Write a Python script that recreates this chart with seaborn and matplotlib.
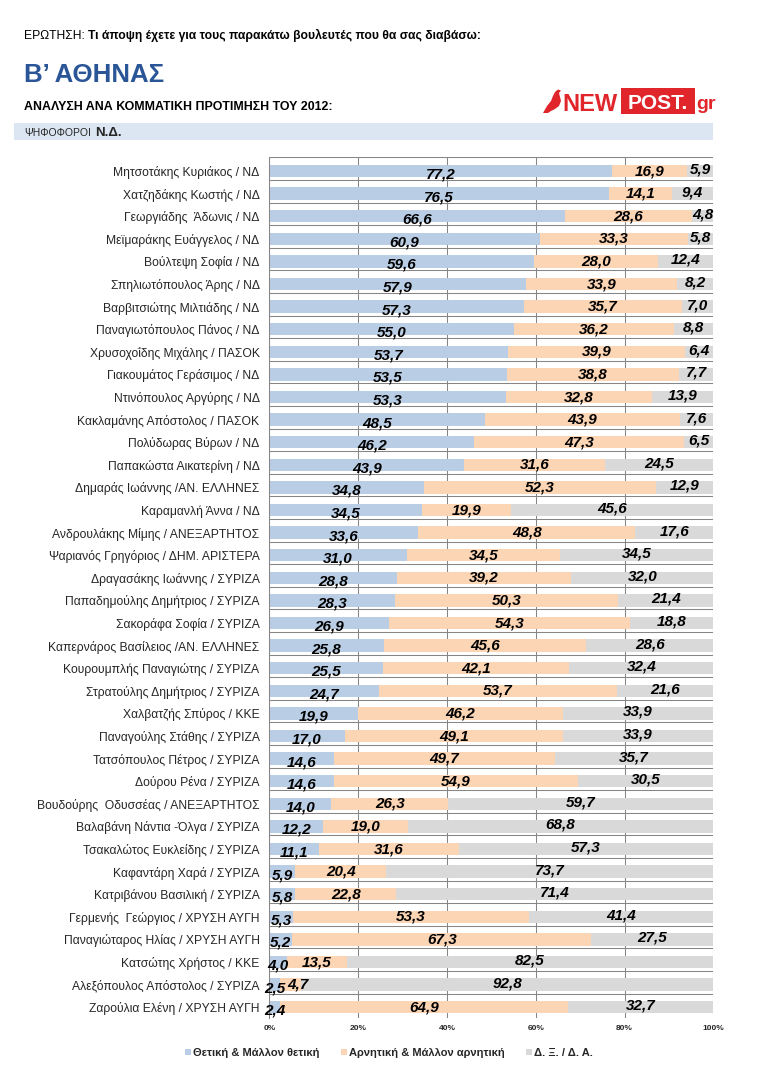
import numpy as np
import pandas as pd
import matplotlib
matplotlib.use("Agg")
import matplotlib.pyplot as plt
import seaborn as sns
from matplotlib import font_manager as fm
from matplotlib.patches import Rectangle, Polygon, Patch

# ---------------- data ----------------
names = [
    "Μητσοτάκης Κυριάκος / ΝΔ", "Χατζηδάκης Κωστής / ΝΔ", "Γεωργιάδης  Άδωνις / ΝΔ",
    "Μεϊμαράκης Ευάγγελος / ΝΔ", "Βούλτεψη Σοφία / ΝΔ", "Σπηλιωτόπουλος Άρης / ΝΔ",
    "Βαρβιτσιώτης Μιλτιάδης / ΝΔ", "Παναγιωτόπουλος Πάνος / ΝΔ", "Χρυσοχοΐδης Μιχάλης / ΠΑΣΟΚ",
    "Γιακουμάτος Γεράσιμος / ΝΔ", "Ντινόπουλος Αργύρης / ΝΔ", "Κακλαμάνης Απόστολος / ΠΑΣΟΚ",
    "Πολύδωρας Βύρων / ΝΔ", "Παπακώστα Αικατερίνη / ΝΔ", "Δημαράς Ιωάννης /ΑΝ. ΕΛΛΗΝΕΣ",
    "Καραμανλή Άννα / ΝΔ", "Ανδρουλάκης Μίμης / ΑΝΕΞΑΡΤΗΤΟΣ", "Ψαριανός Γρηγόριος / ΔΗΜ. ΑΡΙΣΤΕΡΑ",
    "Δραγασάκης Ιωάννης / ΣΥΡΙΖΑ", "Παπαδημούλης Δημήτριος / ΣΥΡΙΖΑ", "Σακοράφα Σοφία / ΣΥΡΙΖΑ",
    "Καπερνάρος Βασίλειος /ΑΝ. ΕΛΛΗΝΕΣ", "Κουρουμπλής Παναγιώτης / ΣΥΡΙΖΑ", "Στρατούλης Δημήτριος / ΣΥΡΙΖΑ",
    "Χαλβατζής Σπύρος / ΚΚΕ", "Παναγούλης Στάθης / ΣΥΡΙΖΑ", "Τατσόπουλος Πέτρος / ΣΥΡΙΖΑ",
    "Δούρου Ρένα / ΣΥΡΙΖΑ", "Βουδούρης  Οδυσσέας / ΑΝΕΞΑΡΤΗΤΟΣ", "Βαλαβάνη Νάντια -Όλγα / ΣΥΡΙΖΑ",
    "Τσακαλώτος Ευκλείδης / ΣΥΡΙΖΑ", "Καφαντάρη Χαρά / ΣΥΡΙΖΑ", "Κατριβάνου Βασιλική / ΣΥΡΙΖΑ",
    "Γερμενής  Γεώργιος / ΧΡΥΣΗ ΑΥΓΗ", "Παναγιώταρος Ηλίας / ΧΡΥΣΗ ΑΥΓΗ", "Κατσώτης Χρήστος / ΚΚΕ",
    "Αλεξόπουλος Απόστολος / ΣΥΡΙΖΑ", "Ζαρούλια Ελένη / ΧΡΥΣΗ ΑΥΓΗ",
]
positive = [77.2, 76.5, 66.6, 60.9, 59.6, 57.9, 57.3, 55.0, 53.7, 53.5, 53.3, 48.5, 46.2,
            43.9, 34.8, 34.5, 33.6, 31.0, 28.8, 28.3, 26.9, 25.8, 25.5, 24.7, 19.9, 17.0,
            14.6, 14.6, 14.0, 12.2, 11.1, 5.9, 5.8, 5.3, 5.2, 4.0, 2.5, 2.4]
negative = [16.9, 14.1, 28.6, 33.3, 28.0, 33.9, 35.7, 36.2, 39.9, 38.8, 32.8, 43.9, 47.3,
            31.6, 52.3, 19.9, 48.8, 34.5, 39.2, 50.3, 54.3, 45.6, 42.1, 53.7, 46.2, 49.1,
            49.7, 54.9, 26.3, 19.0, 31.6, 20.4, 22.8, 53.3, 67.3, 13.5, 4.7, 64.9]
dkna = [5.9, 9.4, 4.8, 5.8, 12.4, 8.2, 7.0, 8.8, 6.4, 7.7, 13.9, 7.6, 6.5,
        24.5, 12.9, 45.6, 17.6, 34.5, 32.0, 21.4, 18.8, 28.6, 32.4, 21.6, 33.9, 33.9,
        35.7, 30.5, 59.7, 68.8, 57.3, 73.7, 71.4, 41.4, 27.5, 82.5, 92.8, 32.7]
x_ticks = [0, 20, 40, 60, 80, 100]
series_labels = ["Θετική & Μάλλον θετική", "Αρνητική & Μάλλον αρνητική", "Δ. Ξ. / Δ. Α."]
colors = ["#B9CDE5", "#FCD5B5", "#D9D9D9"]

# ---------------- style ----------------
sns.set_style("white")
font_names = {f.name for f in fm.fontManager.ttflist}
BASE = "Liberation Sans" if "Liberation Sans" in font_names else "DejaVu Sans"
NARROW = "Liberation Sans Narrow" if "Liberation Sans Narrow" in font_names else BASE
plt.rcParams["font.family"] = [BASE, "DejaVu Sans"]

W, H = 765, 1087
fig = plt.figure(figsize=(W / 100, H / 100), dpi=100)
fig.patch.set_facecolor("white")

def fx(px):
    return px / W

def fy(py):
    return 1 - py / H

ax_left, ax_right, ax_top, ax_bottom = 269.3, 713.3, 157.4, 1018.0
ax = fig.add_axes([fx(ax_left), fy(ax_bottom), (ax_right - ax_left) / W, (ax_bottom - ax_top) / H])

df = pd.DataFrame({"name": names, "pos": positive, "neg": negative, "dk": dkna})
df["c2"] = df["pos"] + df["neg"]
df["c3"] = df["c2"] + df["dk"]
for col, c in [("c3", colors[2]), ("c2", colors[1]), ("pos", colors[0])]:
    sns.barplot(data=df, y="name", x=col, color=c, saturation=1, width=0.55,
                errorbar=None, ax=ax, orient="h", linewidth=0)

n = len(names)
ypos = np.arange(n)

ax.set_xlim(0, 100)
ax.set_ylim(n - 0.52, -0.6)
ax.set_xlabel("")
ax.set_ylabel("")
ax.set_yticks(ypos)
ax.set_yticklabels(names, fontsize=8.75)
ax.set_yticks(ypos - 0.6, minor=True)
ax.set_xticks(x_ticks)
ax.set_xticklabels([f"{t}%" for t in x_ticks], fontsize=6, fontweight="bold")
ax.tick_params(axis="y", which="major", length=0, pad=7)
ax.tick_params(axis="y", which="minor", length=2.5, width=0.75, color="#868686")
ax.tick_params(axis="x", which="major", length=0, pad=5)
ax.set_axisbelow(True)
ax.grid(False)
ax.grid(axis="x", which="major", color="#868686", lw=0.75)
ax.grid(axis="y", which="minor", color="#868686", lw=0.75)
for sp in ["top", "right", "bottom"]:
    ax.spines[sp].set_visible(False)
ax.spines["left"].set_color("#868686")
ax.spines["left"].set_linewidth(0.75)

# value labels (centred in each segment)
offs = [-5.4, -3.0, -1.8]
row_labels = []
for i in range(n):
    starts = [0, positive[i], positive[i] + negative[i]]
    vals = [positive[i], negative[i], dkna[i]]
    row = []
    for s, v, o in zip(starts, vals, offs):
        a = ax.annotate(f"{v:.1f}".replace(".", ","), xy=(s + v / 2, i), xytext=(0, o),
                        textcoords="offset points", ha="center", va="baseline",
                        fontsize=11, fontweight="bold", fontstyle="italic", color="black",
                        annotation_clip=False, zorder=5)
        row.append(a)
    row_labels.append(row)

fig.canvas.draw()
renderer = fig.canvas.get_renderer()
# nudge colliding labels apart (as the original does)
for row in row_labels:
    for j in range(1, len(row)):
        prev = row[j - 1].get_window_extent(renderer)
        cur = row[j].get_window_extent(renderer)
        overlap = prev.x1 + 2 - cur.x0
        if overlap > 0:
            dx_pt = overlap * 72 / 100
            x0, y0 = row[j].xyann
            row[j].xyann = (x0 + dx_pt, y0)

# legend
handles = [Patch(facecolor=c, edgecolor="none", label=l) for c, l in zip(colors, series_labels)]
fig.legend(handles=handles, loc="center", bbox_to_anchor=(fx(389), fy(1053)), ncol=3,
           frameon=False, handlelength=0.55, handleheight=0.55, handletextpad=0.2,
           columnspacing=1.9, prop={"weight": "bold", "size": 8})

# ---------------- header ----------------
def seq_text(pieces, x0, ybase, target_end, family, color="black", size0=10):
    objs = []
    for txt, wt in pieces:
        t = fig.text(fx(x0), fy(ybase), txt, fontsize=size0, fontweight=wt,
                     family=[family, "DejaVu Sans"], color=color, va="baseline", ha="left")
        objs.append(t)
    gap_em = 0.28
    widths = [o.get_window_extent(renderer).width for o in objs]
    total = sum(widths) + gap_em * size0 * 100 / 72 * (len(objs) - 1)
    scale = (target_end - x0) / total
    size = size0 * scale
    x = x0
    for o in objs:
        o.set_fontsize(size)
        o.set_x(fx(x))
        w = o.get_window_extent(renderer).width
        x += w + gap_em * size * 100 / 72
    return size

seq_text([("ΕΡΩΤΗΣΗ:", "normal"),
          ("Τι άποψη έχετε για τους παρακάτω βουλευτές που θα σας διαβάσω:", "bold")],
         24, 39, 477, NARROW)
seq_text([("Β’ ΑΘΗΝΑΣ", "bold")], 24, 82, 164, NARROW, color="#2A5597")
seq_text([("ΑΝΑΛΥΣΗ ΑΝΑ ΚΟΜΜΑΤΙΚΗ ΠΡΟΤΙΜΗΣΗ ΤΟΥ 2012:", "bold")], 24, 110, 331, NARROW)

# band
fig.patches.append(Rectangle((fx(14), fy(140)), fx(713) - fx(14), fy(123) - fy(140),
                             transform=fig.transFigure, facecolor="#DCE6F2", edgecolor="none", zorder=0))
t1 = fig.text(fx(24), fy(135.5), "ΨΗΦΟΦΟΡΟΙ", fontsize=7.5, family=[NARROW, "DejaVu Sans"], va="baseline")
w1 = t1.get_window_extent(renderer).width
fig.text(fx(24 + w1 + 4), fy(135.5), "Ν.Δ.", fontsize=9.5, fontweight="bold",
         family=[NARROW, "DejaVu Sans"], va="baseline")

# logo
RED = "#E1262B"
bird = [(543, 113), (547, 106), (551, 101), (553, 96), (555, 92), (558, 89.5), (561, 90.5),
        (559, 93), (560, 97), (561, 101), (559, 106), (555, 109), (551, 111), (548, 113)]
fig.patches.append(Polygon([(fx(a), fy(b)) for a, b in bird], closed=True,
                           transform=fig.transFigure, facecolor=RED, edgecolor="none"))
fig.text(fx(562), fy(111), "NEW", fontsize=17, fontweight="bold", color=RED, va="baseline", ha="left")
fig.patches.append(Rectangle((fx(621), fy(114)), fx(695) - fx(621), fy(88) - fy(114),
                             transform=fig.transFigure, facecolor=RED, edgecolor="none"))
fig.text(fx(658), fy(109), "POST.", fontsize=15, fontweight="bold", color="white", va="baseline", ha="center")
fig.text(fx(696), fy(109), "gr", fontsize=14, fontweight="bold", color=RED, va="baseline", ha="left")

fig.savefig("out.png", dpi=100, facecolor="white")
